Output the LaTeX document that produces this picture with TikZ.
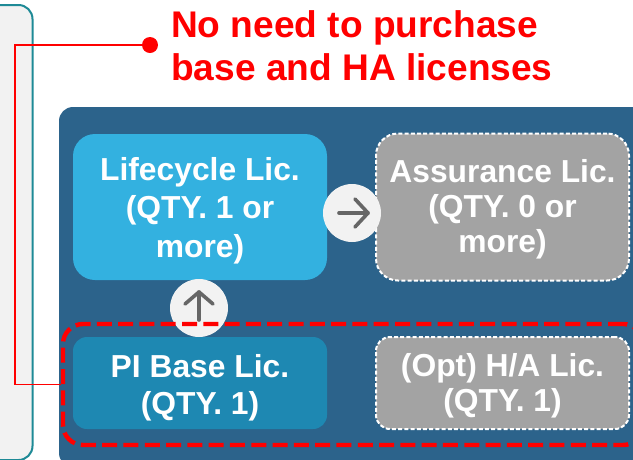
\documentclass[tikz,border=0pt]{standalone}
\usepackage{fontspec}
\setmainfont{Liberation Sans}
\definecolor{leftfill}{HTML}{F2F2F2}
\definecolor{leftline}{HTML}{1E8A96}
\definecolor{panelc}{HTML}{2C638B}
\definecolor{lifec}{HTML}{33B1E0}
\definecolor{basec}{HTML}{1E88B2}
\definecolor{grayc}{HTML}{A3A3A3}
\definecolor{arrowc}{HTML}{666666}
\tikzset{
  x=1pt,y=-1pt,
  lictext/.style={text=white,align=center,inner sep=0pt,font=\bfseries\fontsize{31.8}{38.5}\selectfont},
  opttext/.style={lictext,font=\bfseries\fontsize{31.8}{34.8}\selectfont},
  licbox/.style={rectangle,draw=none,inner sep=0pt},
  optbox/.style={licbox,fill=grayc,draw=white,line width=2pt,dash pattern=on 4pt off 2.2pt},
  roundc/.style={circle,fill=leftfill,minimum size=58pt,inner sep=0pt},
  arrowline/.style={draw=arrowc,line width=3.6pt,line cap=round,line join=round},
  callout/.style={text=red,font=\bfseries\fontsize{37.1}{43}\selectfont,align=left,inner sep=0pt,anchor=north west}
}
\begin{document}
\begin{tikzpicture}
\useasboundingbox (0,0) rectangle (633,459);
\clip (0,0) rectangle (633,459);
\node[draw=leftline,fill=leftfill,line width=2pt,rounded corners=14pt,minimum width=73pt,minimum height=455pt,inner sep=0pt] (leftpanel) at (-4,232.5) {};
\node[fill=panelc,rounded corners=14pt,minimum width=600pt,minimum height=360pt,inner sep=0pt] (panel) at (359,287) {};
\node[licbox,fill=lifec,rounded corners=22pt,minimum width=254pt,minimum height=146pt,
  label={[lictext,yshift=-3.5pt]center:{Lifecycle Lic.\\(QTY. 1 or\\more)}}] (life) at (200,207) {};
\node[optbox,rounded corners=22pt,minimum width=253pt,minimum height=147pt,
  label={[opttext,yshift=-2.5pt]center:{Assurance Lic.\\(QTY. 0 or\\more)}}] (assur) at (502.5,207) {};
\node[licbox,fill=basec,rounded corners=14pt,minimum width=254pt,minimum height=92pt,
  label={[lictext,yshift=-4.5pt,font=\bfseries\fontsize{31.8}{37}\selectfont]center:{PI Base Lic.\\(QTY. 1)}}] (base) at (200,383) {};
\node[optbox,rounded corners=14pt,minimum width=253pt,minimum height=92pt,
  label={[opttext,yshift=-3pt]center:{(Opt) H/A Lic.\\(QTY. 1)}}] (ha) at (502.5,383) {};
\node[roundc] (upc) at (199,308) {};
\node[roundc] (rightc) at (352,213) {};
\draw[arrowline] (199,320) -- (199,292);
\draw[arrowline] (185,304) -- (199,292) -- (213,304);
\draw[arrowline] (339,213) -- (368,213);
\draw[arrowline] (355,199) -- (368,213) -- (355,227);
\node[draw=red,line width=4.4pt,dash pattern=on 15pt off 6.3pt,rounded corners=20pt,minimum width=580pt,minimum height=121pt,inner sep=0pt] (sel) at (353,384.5) {};
\node[circle,fill=red,minimum size=16pt,inner sep=0pt] (dot) at (150,45) {};
\coordinate (bend) at (15,45);
\draw[red,line width=1.8pt] (dot.center) -- (bend) |- (sel.west);
\node[callout] (note) at (171,10) {No need to purchase\\base and HA licenses};
\end{tikzpicture}
\end{document}
